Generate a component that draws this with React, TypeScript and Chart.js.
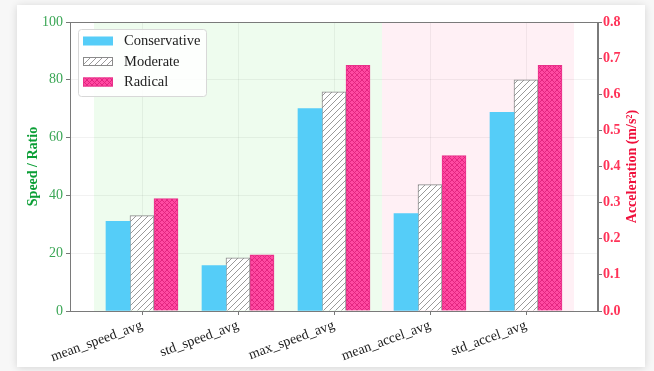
import React, { useEffect, useRef } from "react";
import { Chart, registerables } from "chart.js";

Chart.register(...registerables);

const categories = ["mean_speed_avg", "std_speed_avg", "max_speed_avg", "mean_accel_avg", "std_accel_avg"];
const isAccel = [false, false, false, true, true];
const seriesNames = ["Conservative", "Moderate", "Radical"];
const conservative = [31, 15.7, 70, 0.27, 0.55];
const moderate = [33, 18.4, 75.8, 0.35, 0.64];
const radical = [38.9, 19.4, 85, 0.43, 0.68];
const speedTicks = [0, 20, 40, 60, 80, 100];
const accelTicks = [0, 0.1, 0.2, 0.3, 0.4, 0.5, 0.6, 0.7, 0.8];

const SERIF = "'Liberation Serif', 'DejaVu Serif', serif";

function makeHatch(bg: string, fg: string, cross: boolean, size: number, lw: number) {
  const c = document.createElement("canvas");
  c.width = size;
  c.height = size;
  const g = c.getContext("2d")!;
  g.fillStyle = bg;
  g.fillRect(0, 0, size, size);
  g.strokeStyle = fg;
  g.lineWidth = lw;
  g.beginPath();
  g.moveTo(0, size); g.lineTo(size, 0);
  g.moveTo(-size / 2, size / 2); g.lineTo(size / 2, -size / 2);
  g.moveTo(size / 2, size * 1.5); g.lineTo(size * 1.5, size / 2);
  if (cross) {
    g.moveTo(0, 0); g.lineTo(size, size);
    g.moveTo(-size / 2, size / 2); g.lineTo(size / 2, size * 1.5);
    g.moveTo(size / 2, -size / 2); g.lineTo(size * 1.5, size / 2);
  }
  g.stroke();
  return g.createPattern(c, "repeat")!;
}

export default function App() {
  const ref = useRef<HTMLCanvasElement>(null);

  useEffect(() => {
    const canvas = ref.current!;
    const ctx = canvas.getContext("2d")!;
    const blue = "#55cdf8";
    const hatch = makeHatch("#ffffff", "#9a9a9a", false, 6, 1);
    const cross = makeHatch("#ff4aa2", "#e0227c", true, 5, 0.9);
    const fills = [blue, hatch, cross];
    const borders = [blue, "#8a8a8a", "#e8328a"];
    const borderW = [0, 1, 1];
    const values = [conservative, moderate, radical];

    const datasets: any[] = [];
    [false, true].forEach((accelGroup) => {
      values.forEach((vals, k) => {
        const pts: any[] = [];
        categories.forEach((_, i) => {
          if (isAccel[i] === accelGroup) pts.push({ x: i + (k - 1) * 0.25, y: vals[i] });
        });
        datasets.push({
          label: seriesNames[k],
          data: pts,
          yAxisID: accelGroup ? "y2" : "y",
          backgroundColor: fills[k],
          borderColor: borders[k],
          borderWidth: borderW[k],
          grouped: false,
          barPercentage: 1,
          categoryPercentage: 1,
        });
      });
    });

    const plugin = {
      id: "decor",
      beforeDraw(chart: any) {
        const { ctx, chartArea: a, scales } = chart;
        const xs = scales.x;
        ctx.save();
        ctx.fillStyle = "#eefcee";
        const g0 = xs.getPixelForValue(-0.5), g1 = xs.getPixelForValue(2.5), g2 = xs.getPixelForValue(4.5);
        ctx.fillRect(g0, a.top, g1 - g0, a.bottom - a.top);
        ctx.fillStyle = "#fff0f5";
        ctx.fillRect(g1, a.top, g2 - g1, a.bottom - a.top);
        ctx.restore();
      },
      afterDraw(chart: any) {
        const { ctx, chartArea: a } = chart;
        ctx.save();
        ctx.strokeStyle = "#7a7a7a";
        ctx.lineWidth = 1;
        ctx.strokeRect(Math.round(a.left) + 0.5, Math.round(a.top) + 0.5, Math.round(a.right - a.left) - 1, Math.round(a.bottom - a.top));
        const cy = (a.top + a.bottom) / 2;
        ctx.font = `bold 14px ${SERIF}`;
        ctx.textAlign = "center";
        ctx.textBaseline = "middle";
        ctx.fillStyle = "#0a9e35";
        ctx.translate(16, cy);
        ctx.rotate(-Math.PI / 2);
        ctx.fillText("Speed / Ratio", 0, 0);
        ctx.restore();
        ctx.save();
        ctx.font = `bold 14px ${SERIF}`;
        ctx.textAlign = "center";
        ctx.textBaseline = "middle";
        ctx.fillStyle = "#f0103c";
        ctx.translate(615, cy);
        ctx.rotate(-Math.PI / 2);
        ctx.fillText("Acceleration (m/s\u00b2)", 0, 0);
        ctx.restore();
        ctx.save();
        const lx = a.left + 8, ly = a.top + 7, lw = 128, lh = 67;
        ctx.fillStyle = "rgba(255,255,255,0.85)";
        ctx.strokeStyle = "#d8d8d8";
        ctx.lineWidth = 1;
        ctx.beginPath();
        ctx.roundRect(lx + 0.5, ly + 0.5, lw, lh, 3);
        ctx.fill();
        ctx.stroke();
        ctx.font = `14.5px ${SERIF}`;
        ctx.textAlign = "left";
        ctx.textBaseline = "middle";
        for (let k = 0; k < 3; k++) {
          const ry = ly + 12 + k * 20.5;
          ctx.fillStyle = fills[k];
          ctx.fillRect(lx + 5, ry - 4.5, 30, 9);
          if (borderW[k]) {
            ctx.strokeStyle = borders[k];
            ctx.strokeRect(lx + 5.5, ry - 4, 29, 8);
          }
          ctx.fillStyle = "#222";
          ctx.fillText(seriesNames[k], lx + 46, ry + 0.5);
        }
        ctx.restore();
      },
    };

    const chart = new Chart(ctx, {
      type: "bar",
      data: { datasets },
      plugins: [plugin],
      options: {
        animation: false,
        responsive: false,
        maintainAspectRatio: false,
        layout: { padding: { top: 17, left: 0, right: 0, bottom: 0 } },
        plugins: { legend: { display: false }, tooltip: { enabled: false } },
        scales: {
          x: {
            type: "linear",
            offset: false,
            min: -0.75,
            max: 4.75,
            afterBuildTicks: (s: any) => {
              s.ticks = categories.map((_, i) => ({ value: i }));
            },
            afterFit: (s: any) => { s.height = 56; },
            grid: { offset: false, color: "rgba(0,0,0,0.05)", tickColor: "#777", tickLength: 4, lineWidth: 1 },
            border: { color: "#7a7a7a" },
            ticks: {
              minRotation: 20,
              maxRotation: 20,
              padding: 2,
              color: "#222",
              font: { family: SERIF, size: 14 },
              callback: (v: any) => categories[Math.round(v)] ?? "",
            },
          },
          y: {
            position: "left",
            min: 0,
            max: 100,
            afterBuildTicks: (s: any) => { s.ticks = speedTicks.map((v) => ({ value: v })); },
            afterFit: (s: any) => { s.width = 53; },
            grid: { color: "rgba(0,0,0,0.05)", tickColor: "#777", tickLength: 4 },
            border: { color: "#7a7a7a" },
            ticks: { color: "#3aa655", padding: 3, font: { family: SERIF, size: 14 } },
          },
          y2: {
            position: "right",
            min: 0,
            max: 0.8,
            afterBuildTicks: (s: any) => { s.ticks = accelTicks.map((v) => ({ value: v })); },
            afterFit: (s: any) => { s.width = 47; },
            grid: { drawOnChartArea: false, tickColor: "#777", tickLength: 4 },
            border: { color: "#7a7a7a" },
            ticks: {
              color: "#ff3358",
              padding: 1,
              font: { family: SERIF, size: 14, weight: "bold" },
              callback: (v: any) => Number(v).toFixed(1),
            },
          },
        },
      } as any,
    });
    return () => chart.destroy();
  }, []);

  return (
    <div style={{ position: "fixed", left: 0, top: 0, width: 654, height: 371, background: "#f7f7f7", overflow: "hidden" }}>
      <div
        style={{
          position: "absolute",
          left: 17,
          top: 5,
          width: 628,
          height: 362,
          background: "#fff",
          boxShadow: "0 1px 8px rgba(0,0,0,0.14)",
        }}
      >
        <canvas ref={ref} width={628} height={362} style={{ display: "block", width: 628, height: 362 }} />
      </div>
    </div>
  );
}
